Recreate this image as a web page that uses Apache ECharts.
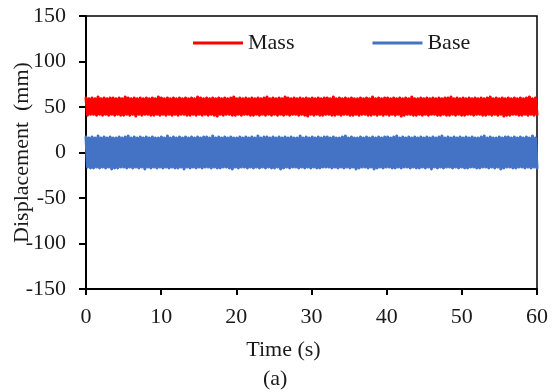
<!DOCTYPE html>
<html>
<head>
<meta charset="utf-8">
<script src="https://cdn.jsdelivr.net/npm/echarts@6/dist/echarts.min.js"></script>
<style>
  html, body { margin: 0; padding: 0; background: #fff; }
  #chart { width: 556px; height: 392px; }
</style>
</head>
<body>
<div id="chart"></div>
<script>
// peaks and troughs of the two displacement records (mm)
const massValues = [
  60, 41, 59, 42, 60, 42, 59, 41, 61, 42, 59, 41, 60, 42, 59, 41, 60, 42, 60, 41,
  59, 42, 60, 41, 59, 41, 61, 42, 60, 41, 59, 42, 60, 40, 59, 42, 60, 41, 59, 42,
  60, 42, 59, 41, 60, 41, 59, 42, 61, 41, 60, 42, 59, 41, 60, 42, 59, 41, 60, 42,
  59, 41, 60, 42, 59, 42, 60, 41, 59, 41, 60, 42, 59, 41, 61, 42, 60, 41, 59, 42,
  60, 41, 59, 42, 60, 41, 59, 40, 60, 42, 59, 41, 60, 42, 59, 42, 60, 41, 61, 41,
  59, 42, 60, 41, 59, 42, 60, 42, 59, 41, 60, 41, 59, 42, 60, 41, 59, 42, 60, 41,
  61, 42, 59, 41, 60, 42, 59, 41, 60, 42, 59, 41, 61, 42, 60, 41, 59, 42, 60, 42,
  59, 41, 60, 42, 59, 41, 60, 40, 59, 42, 60, 41, 59, 42, 60, 41, 59, 41, 60, 42,
  60, 42, 59, 41, 61, 41, 59, 42, 60, 41, 59, 42, 60, 42, 59, 41, 60, 41, 59, 42,
  59, 41, 60, 42, 59, 42, 60, 41, 59, 41, 61, 42, 59, 41, 60, 42, 59, 41, 60, 42,
  60, 41, 59, 42, 60, 41, 59, 42, 60, 40, 59, 41, 60, 42, 59, 42, 61, 41, 59, 41,
  59, 42, 60, 41, 59, 42, 60, 41, 59, 42, 60, 42, 59, 41, 60, 41, 59, 42, 60, 41,
  60, 41, 61, 42, 59, 41, 60, 42, 59, 41, 60, 41, 59, 42, 60, 42, 59, 41, 60, 42,
  59, 42, 60, 41, 59, 41, 60, 42, 61, 41, 59, 42, 60, 41, 59, 42, 60, 40, 59, 41,
  60, 41, 59, 42, 60, 42, 59, 41, 60, 41, 59, 42, 60, 41, 61, 42, 59, 41, 60, 42
];
const baseValues = [
  17, -16, 16, -17, 17, -17, 16, -16, 18, -17, 16, -16, 17, -17, 16, -16, 17, -18, 16, -17,
  16, -17, 17, -16, 16, -16, 17, -17, 18, -16, 16, -17, 17, -16, 16, -17, 17, -16, 16, -18,
  17, -16, 16, -17, 17, -16, 16, -17, 16, -16, 17, -17, 16, -16, 18, -17, 16, -16, 17, -17,
  16, -17, 17, -16, 16, -18, 17, -16, 16, -17, 17, -16, 16, -17, 17, -16, 16, -17, 17, -16,
  17, -16, 16, -17, 18, -16, 16, -17, 17, -17, 16, -16, 17, -16, 16, -17, 17, -18, 16, -16,
  16, -17, 17, -16, 16, -16, 17, -17, 16, -16, 17, -17, 16, -16, 18, -17, 16, -16, 17, -17,
  17, -16, 16, -17, 17, -17, 16, -16, 17, -18, 16, -17, 17, -16, 16, -17, 17, -16, 16, -16,
  16, -17, 18, -16, 16, -17, 17, -16, 16, -17, 17, -16, 16, -17, 17, -17, 16, -16, 17, -16,
  17, -16, 16, -17, 17, -16, 16, -17, 16, -16, 17, -17, 18, -16, 16, -17, 17, -16, 16, -18,
  16, -17, 17, -16, 16, -16, 17, -17, 16, -16, 17, -18, 16, -17, 17, -16, 16, -17, 17, -16,
  17, -16, 16, -17, 17, -17, 18, -16, 16, -17, 17, -16, 16, -16, 17, -17, 16, -16, 17, -17,
  16, -17, 17, -16, 16, -17, 17, -16, 16, -18, 17, -16, 16, -17, 17, -16, 18, -17, 16, -16,
  17, -16, 16, -17, 17, -16, 16, -17, 17, -16, 16, -17, 17, -17, 16, -16, 17, -16, 16, -17,
  16, -17, 17, -16, 18, -16, 16, -17, 17, -16, 16, -17, 16, -16, 17, -18, 16, -17, 17, -16,
  17, -16, 16, -17, 17, -17, 16, -16, 17, -16, 16, -17, 17, -16, 16, -17, 18, -16, 16, -17
];
const duration = 60; // s
const xTicks = [0, 10, 20, 30, 40, 50, 60];
const yTicks = [-150, -100, -50, 0, 50, 100, 150];
const seriesNames = ['Mass', 'Base'];

const font = 'Liberation Serif';
const ink = '#1a1a1a';

function toPairs(values) {
  const step = duration / (values.length - 1);
  return values.map((v, i) => [i * step, v]);
}

const chart = echarts.init(document.getElementById('chart'));

chart.setOption({
  animation: false,
  title: {
    text: '(a)',
    left: 258,
    top: 363,
    textStyle: { fontFamily: font, fontSize: 22, fontWeight: 'normal', color: ink }
  },
  legend: {
    data: seriesNames.map(n => ({ name: n, icon: 'rect' })),
    left: 193,
    top: 32,
    padding: 0,
    itemWidth: 50,
    itemHeight: 3,
    itemGap: 78,
    textStyle: { fontFamily: font, fontSize: 22, color: ink }
  },
  grid: {
    left: 86,
    right: 19,
    top: 16,
    bottom: 103,
    outerBoundsMode: 'none',
    containLabel: false,
    show: true,
    borderColor: '#000',
    borderWidth: 1.5
  },
  xAxis: {
    type: 'value',
    min: xTicks[0],
    max: xTicks[xTicks.length - 1],
    interval: 10,
    name: 'Time (s)',
    nameLocation: 'middle',
    nameGap: 50,
    nameMoveOverlap: false,
    nameTextStyle: { fontFamily: font, fontSize: 22, color: ink, padding: [0, 56, 0, 0] },
    axisLine: { onZero: false, lineStyle: { color: '#000', width: 2 } },
    axisTick: { show: true, inside: false, length: 6, lineStyle: { color: '#000', width: 2 } },
    axisLabel: { fontFamily: font, fontSize: 22, color: ink, margin: 17 },
    splitLine: { show: false }
  },
  yAxis: {
    type: 'value',
    min: yTicks[0],
    max: yTicks[yTicks.length - 1],
    interval: 50,
    name: 'Displacement  (mm)',
    nameLocation: 'middle',
    nameRotate: 90,
    nameGap: 53,
    nameMoveOverlap: false,
    nameTextStyle: { fontFamily: font, fontSize: 22, color: ink },
    axisLine: { show: true, onZero: false, lineStyle: { color: '#000', width: 2 } },
    axisTick: { show: true, inside: false, length: 7, lineStyle: { color: '#000', width: 2 } },
    axisLabel: { fontFamily: font, fontSize: 22, color: ink, margin: 20 },
    splitLine: { show: false }
  },
  series: [
    {
      name: seriesNames[0],
      type: 'line',
      data: toPairs(massValues),
      showSymbol: false,
      sampling: null,
      color: '#ff0000',
      lineStyle: { width: 3, color: '#ff0000', join: 'round', cap: 'round' }
    },
    {
      name: seriesNames[1],
      type: 'line',
      data: toPairs(baseValues),
      showSymbol: false,
      sampling: null,
      color: '#4472c4',
      lineStyle: { width: 3, color: '#4472c4', join: 'round', cap: 'round' }
    }
  ]
});
</script>
</body>
</html>
